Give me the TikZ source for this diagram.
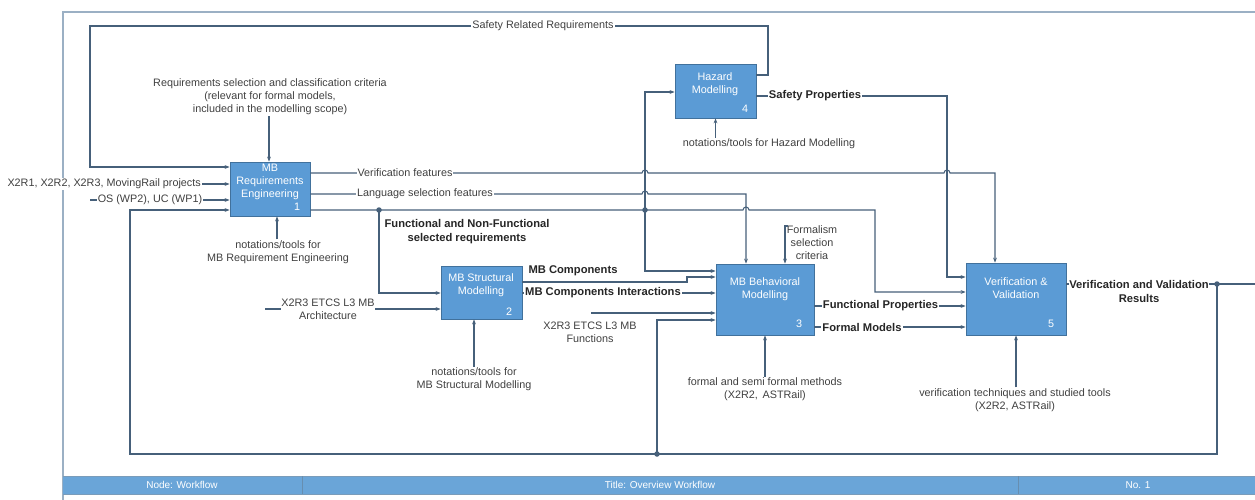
\documentclass[tikz,border=0pt]{standalone}
\usepackage{fontspec}
\setmainfont{Liberation Sans}
\usetikzlibrary{arrows.meta,calc}
\definecolor{lc}{HTML}{46607A}
\definecolor{bfill}{HTML}{5B9BD5}
\definecolor{bdraw}{HTML}{41719C}
\definecolor{frm}{HTML}{9BB0C4}
\definecolor{ftr}{HTML}{6AA5D8}
\definecolor{txt}{HTML}{404040}
\begin{document}
\begin{tikzpicture}[x=1pt,y=-1pt,
  blk/.style={draw=bdraw, fill=bfill, line width=0.8pt, inner sep=0pt},
  blktxt/.style={text=white, font=\fontsize{10.8}{13}\selectfont, align=center, inner sep=0pt},
  num/.style={text=white, font=\fontsize{10.8}{13}\selectfont, inner sep=0pt},
  lbl/.style={text=txt, font=\fontsize{10.8}{13}\selectfont, align=center, inner sep=1pt},
  bl/.style={text=black!85, font=\bfseries\fontsize{11.2}{14}\selectfont, align=center, inner sep=1pt},
  wf/.style={fill=white},
  conn/.style={draw=lc, line width=1.05pt},
  arr/.style={conn, -{Stealth[length=5pt,width=3.8pt]}},
  dotn/.style={circle, fill=lc, inner sep=0pt, minimum size=5.5pt},
  ftxt/.style={text=white, font=\fontsize{10}{12}\selectfont, inner sep=0pt}
]
\useasboundingbox (0,0) rectangle (1255,500);
% frame
\draw[frm, line width=1.2pt] (63,500) -- (63,12) -- (1255,12);
% footer
\fill[ftr] (63,476) rectangle (1255,494);
\draw[bdraw!70, line width=0.7pt] (63,476) -- (1255,476) (63,494) -- (1255,494);
\draw[bdraw!80, line width=0.7pt] (302,476) -- (302,494) (1018,476) -- (1018,494);
\node[ftxt] (f1) at (182,485) {Node: Workflow};
\node[ftxt] (f2) at (660,485) {Title: Overview Workflow};
\node[ftxt] (f3) at (1138,485) {No. 1};

% ---- labels drawn under boxes but over lines are added at the end ----
% ---- connectors (coordinates, boxes defined first) ----
\path (270,189) node[blk, minimum width=80pt, minimum height=54pt] (b1) {};
\path (715.5,91) node[blk, minimum width=81pt, minimum height=54pt] (b4) {};
\path (481.5,292.5) node[blk, minimum width=81pt, minimum height=53pt] (b2) {};
\path (765,299.5) node[blk, minimum width=98pt, minimum height=71pt] (b3) {};
\path (1016,299) node[blk, minimum width=100pt, minimum height=72pt] (b5) {};

% box texts
\node[blktxt] (t1) at (270,181.5) {MB\\Requirements\\Engineering};
\node[num] (n1) at (297,207) {1};
\node[blktxt] (t4) at (715,84) {Hazard\\Modelling};
\node[num] (n4) at (745,109) {4};
\node[blktxt] (t2) at (481,285.5) {MB Structural\\Modelling};
\node[num] (n2) at (509,312) {2};
\node[blktxt] (t3) at (765,289.5) {MB Behavioral\\Modelling};
\node[num] (n3) at (799,324) {3};
\node[blktxt] (t5) at (1016,288) {Verification \&\\Validation};
\node[num] (n5) at (1051,324) {5};

% Safety Related Requirements (feedback from hazard to req. eng.)
\draw[arr] (b4.east |- 0,75) -| (768,26) -| (90,167) -- (b1.west |- 0,167);
% inputs of b1
\node[lbl, wf, anchor=east] (in1) at (202,184) {X2R1, X2R2, X2R3, MovingRail projects};
\draw[arr] (in1.east) -- (b1.west |- in1.east);
\coordinate (in2s) at (90,200);
\draw[arr] (in2s) -- (b1.west |- in2s);
% control / mechanism of b1
\node[lbl] (c1) at (270,97) {Requirements selection and classification criteria\\(relevant for formal models,\\included in the modelling scope)};
\draw[arr] (c1.south -| 269,0) -- (b1.north -| 269,0);
\node[lbl] (m1) at (278,252) {notations/tools for\\MB Requirement Engineering};
\draw[arr] (m1.north -| 277,0) -- (b1.south -| 277,0);

% Verification features
\draw[arr] (b1.east |- 0,173) -- (642,173) arc[start angle=180,end angle=360,radius=3]
  -- (944,173) arc[start angle=180,end angle=360,radius=3] -| (b5.north -| 995,0);
% Language selection features
\draw[arr] (b1.east |- 0,194) -- (642,194) arc[start angle=180,end angle=360,radius=3]
  -| (b3.north -| 746,0);
% Functional and non-functional selected requirements
\draw[arr] (b1.east |- 0,210) -- (743,210) arc[start angle=180,end angle=360,radius=3]
  -- (875,210) |- (b5.west |- 0,292);
\coordinate (j1) at (379,210);
\coordinate (j2) at (645,210);
\draw[arr] (j1) |- (b2.west |- 0,293);
\draw[arr] (j2) |- (b4.west |- 0,92);
\draw[arr] (j2) |- (b3.west |- 0,271);
\node[dotn] (d1) at (j1) {};
\node[dotn] (d2) at (j2) {};

% b2 inputs / mechanism
\coordinate (a2s) at (265,309);
\draw[arr] (a2s) -- (b2.west |- a2s);
\node[lbl] (m2) at (474,379.5) {notations/tools for\\MB Structural Modelling};
\draw[arr] (m2.north -| 474,0) -- (b2.south -| 474,0);

% b2 outputs
\draw[arr] (b2.east |- 0,282) -- (687,282) |- (b3.west |- 0,277);
\draw[arr] (b2.east |- 0,293) -- (b3.west |- 0,293);

% b3 other inputs
\coordinate (a3s) at (591,313);
\draw[arr] (a3s) -- (b3.west |- a3s);
\node[lbl] (fc) at (812,243) {Formalism\\selection\\criteria};
\draw[arr] (788,226) -- (785,226) -- (b3.north -| 785,0);
\node[lbl] (m3) at (765,389.5) {formal and semi formal methods\\(X2R2,\, ASTRail)};
\draw[arr] (m3.north -| 765,0) -- (b3.south -| 765,0);

% b3 outputs
\draw[arr] (b3.east |- 0,306) -- (b5.west |- 0,306);
\draw[arr] (b3.east |- 0,327) -- (b5.west |- 0,327);

% hazard
\draw[arr] (b4.east |- 0,96) -- (947,96) |- (b5.west |- 0,277);
\node[lbl] (m4) at (769,144) {notations/tools for Hazard Modelling};
\draw[arr] (m4.north -| b4.south) -- (b4.south);

% b5 mechanism and output
\node[lbl] (m5) at (1015,400) {verification techniques and studied tools\\(X2R2, ASTRail)};
\draw[arr] (m5.north -| 1016,0) -- (b5.south -| 1016,0);
\coordinate (vo) at (1255,284);
\draw[conn] (b5.east |- vo) -- (vo);
\coordinate (j3) at (1217,284);
\coordinate (j4) at (657,454);
\draw[arr] (j3) |- (130,454) |- (b1.west |- 0,210);
\draw[arr] (j4) |- (b3.west |- 0,320);
\node[dotn] (d3) at (j3) {};
\node[dotn] (d4) at (j4) {};

% ---- labels on lines ----
\node[lbl, wf] (l1) at (543,26) {Safety Related Requirements};
\node[lbl, wf] (l2) at (150,200) {OS (WP2), UC (WP1)};
\node[lbl, wf] (l3) at (405,173) {Verification features};
\node[lbl, wf] (l4) at (425,194) {Language selection features};
\node[bl] (l5) at (467,232) {Functional and Non-Functional\\selected requirements};
\node[lbl, wf, inner sep=0.5pt] (l6) at (328,309.5) {X2R3 ETCS L3 MB\\Architecture};
\node[bl] (l7) at (573,271) {MB Components};
\node[bl, wf] (l8) at (603,293) {MB Components Interactions};
\node[lbl] (l9) at (590,332) {X2R3 ETCS L3 MB\\Functions};
\node[bl, wf] (l10) at (880.5,306) {Functional Properties};
\node[bl, wf] (l11) at (862,327) {Formal Models};
\node[bl, wf] (l12) at (815,96) {Safety Properties};
\node[bl, wf, inner sep=0pt] (l13) at (1139,291) {Verification and Validation\\Results};
\end{tikzpicture}
\end{document}
